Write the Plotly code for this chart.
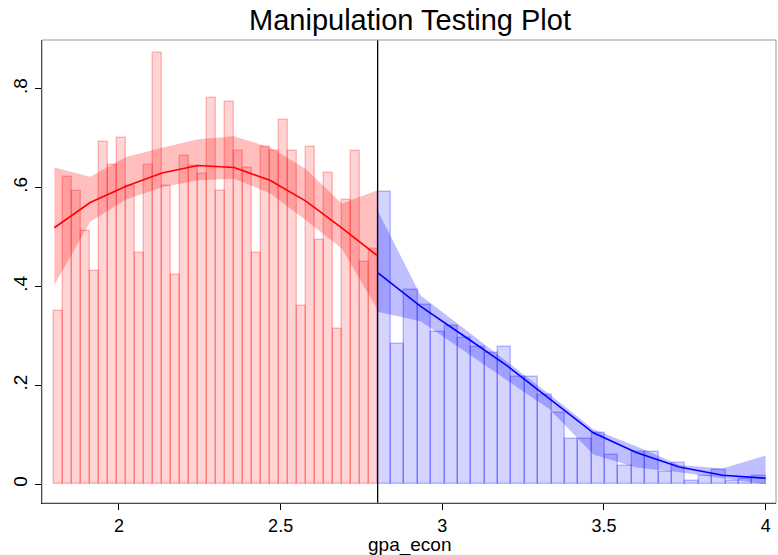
import plotly.graph_objects as go

# ---- data ----
left_start = 1.8
left_width = 1.0 / 36
left_heights = [0.350, 0.621, 0.593, 0.512, 0.432, 0.692, 0.647, 0.701, 0.603,
                0.467, 0.646, 0.872, 0.603, 0.423, 0.665, 0.645, 0.628, 0.782,
                0.593, 0.773, 0.674, 0.640, 0.467, 0.683, 0.674, 0.737, 0.674,
                0.360, 0.683, 0.495, 0.629, 0.315, 0.575, 0.674, 0.450, 0.477]

right_start = 2.8
right_width = 1.2 / 29
right_heights = [0.591, 0.284, 0.393, 0.362, 0.308, 0.321, 0.296, 0.278, 0.266,
                 0.278, 0.217, 0.217, 0.181, 0.145, 0.091, 0.091, 0.103, 0.060,
                 0.036, 0.066, 0.066, 0.024, 0.042, 0.007, 0.017, 0.029, 0.007,
                 0.010, 0.017]

left_x = [1.8, 1.911, 2.022, 2.133, 2.244, 2.356, 2.467, 2.578, 2.689, 2.8]
left_fit = [0.519, 0.570, 0.603, 0.630, 0.645, 0.641, 0.615, 0.573, 0.519, 0.462]
left_hi = [0.641, 0.622, 0.662, 0.681, 0.698, 0.704, 0.682, 0.638, 0.568, 0.595]
left_lo = [0.403, 0.531, 0.576, 0.601, 0.615, 0.618, 0.589, 0.534, 0.477, 0.353]

right_x = [2.8, 2.933, 3.067, 3.2, 3.333, 3.467, 3.6, 3.733, 3.867, 4.0]
right_fit = [0.428, 0.360, 0.300, 0.240, 0.172, 0.104, 0.064, 0.035, 0.018, 0.012]
right_hi = [0.554, 0.382, 0.315, 0.248, 0.181, 0.111, 0.077, 0.039, 0.032, 0.058]
right_lo = [0.349, 0.330, 0.269, 0.210, 0.151, 0.060, 0.034, 0.024, 0.012, 0.000]

cutoff = 2.8
x_ticks = [2, 2.5, 3, 3.5, 4]
y_ticks = [0, 0.2, 0.4, 0.6, 0.8]
y_ticklabels = ["0", ".2", ".4", ".6", ".8"]

FONT = "Liberation Sans, Arial, sans-serif"

fig = go.Figure()


def add_side(start, width, heights, xs, fit, hi, lo, rgb):
    centers = [start + width * (i + 0.5) for i in range(len(heights))]
    fig.add_trace(go.Bar(
        x=centers, y=heights, width=[width] * len(heights),
        marker=dict(color=f"rgba({rgb},0.17)",
                    line=dict(color=f"rgba({rgb},0.24)", width=1.5)),
        showlegend=False, hoverinfo="skip"))
    fig.add_trace(go.Scatter(
        x=xs + xs[::-1], y=hi + lo[::-1], fill="toself", mode="lines",
        line=dict(width=0), fillcolor=f"rgba({rgb},0.25)",
        showlegend=False, hoverinfo="skip"))
    fig.add_trace(go.Scatter(
        x=xs, y=fit, mode="lines", line=dict(color=f"rgb({rgb})", width=1.6),
        showlegend=False))


add_side(left_start, left_width, left_heights, left_x, left_fit, left_hi, left_lo, "255,0,0")
add_side(right_start, right_width, right_heights, right_x, right_fit, right_hi, right_lo, "0,0,255")

fig.add_shape(type="line", xref="x", yref="paper", x0=cutoff, x1=cutoff, y0=0, y1=1,
              line=dict(color="black", width=1.3))
fig.add_shape(type="rect", xref="paper", yref="paper", x0=0, x1=1, y0=0, y1=1,
              line=dict(color="#999999", width=1), layer="above")

fig.add_annotation(text="gpa_econ", xref="paper", yref="paper", x=0.5, y=-0.091,
                   xanchor="center", yanchor="middle", showarrow=False,
                   font=dict(size=19, family=FONT, color="black"))

fig.update_layout(
    width=778, height=555,
    margin=dict(l=42, r=2, t=40, b=52),
    paper_bgcolor="white", plot_bgcolor="white",
    barmode="overlay", bargap=0,
    font=dict(family=FONT, color="black"),
    title=dict(text="Manipulation Testing Plot", x=0.527, xanchor="center",
               y=0.964, yanchor="middle", font=dict(size=29, family=FONT)),
    xaxis=dict(range=[1.762, 4.032], tickvals=x_ticks,
               ticktext=[str(v) for v in x_ticks],
               showgrid=False, zeroline=False, showline=True, linecolor="black",
               linewidth=1.3, ticks="outside", ticklen=6, tickcolor="black",
               tickfont=dict(size=18)),
    yaxis=dict(range=[-0.038, 0.899], tickvals=y_ticks, ticktext=y_ticklabels,
               showgrid=False, zeroline=False, showline=True, linecolor="black",
               linewidth=1.3, ticks="outside", ticklen=6, tickcolor="black",
               tickangle=-90, tickfont=dict(size=19)),
)

fig.write_html("out.html")
